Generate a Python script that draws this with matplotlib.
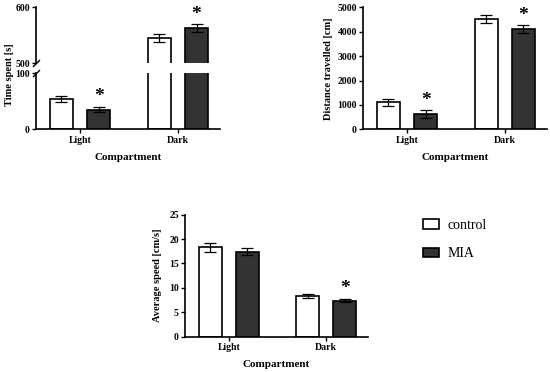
import numpy as np
import matplotlib.pyplot as plt

# Data
groups = ['Light', 'Dark']
series = ['control', 'MIA']

time_control = [54, 545]
time_control_err = [6, 7]
time_mia = [35, 563]
time_mia_err = [5, 7]
time_sig = [True, True]

dist_control = [1100, 4520]
dist_control_err = [150, 150]
dist_mia = [630, 4100]
dist_mia_err = [150, 160]
dist_sig = [True, True]

speed_control = [18.3, 8.3]
speed_control_err = [1.0, 0.4]
speed_mia = [17.4, 7.4]
speed_mia_err = [0.7, 0.35]
speed_sig = [False, True]

########### Styling ##################

plt.rcParams['font.family'] = ['Liberation Serif', 'DejaVu Serif']
plt.rcParams['font.weight'] = 'bold'

W = 0.24       # bar width
OFF = 0.19     # bar offset from group centre
DARK = '#333333'
x = np.arange(len(groups))


def style_axis(ax):
    for s in ['top', 'right']:
        ax.spines[s].set_visible(False)
    for s in ['left', 'bottom']:
        ax.spines[s].set_linewidth(1.2)
    ax.tick_params(direction='out', length=3, width=1.0, labelsize=7, pad=1.5)
    for lab in ax.get_yticklabels() + ax.get_xticklabels():
        lab.set_fontweight('bold')
    ax.set_xlim(-0.45, 1.43)


def draw_bars(ax, ctrl, ctrl_err, mia, mia_err):
    ekw = dict(ecolor='black', elinewidth=0.9, capsize=4, capthick=0.9)
    b1 = ax.bar(x - OFF, ctrl, W, yerr=ctrl_err, color='white', edgecolor='black',
                linewidth=1.2, error_kw=ekw, label=series[0])
    b2 = ax.bar(x + OFF, mia, W, yerr=mia_err, color=DARK, edgecolor='black',
                linewidth=1.2, error_kw=ekw, label=series[1])
    return b1, b2


def stars(ax, vals, errs, sig):
    for i in range(len(vals)):
        if sig[i]:
            ax.annotate('*', xy=(x[i] + OFF, vals[i] + errs[i]), xytext=(0, 1),
                        textcoords='offset points', ha='center', va='bottom',
                        fontsize=14, fontweight='bold')


fig = plt.figure(figsize=(5.5, 3.72), dpi=100)

# Panel 1: time spent, broken y axis
ax_hi = fig.add_axes([0.0655, 0.8298, 0.3345, 0.1505])
ax_lo = fig.add_axes([0.0655, 0.6524, 0.3345, 0.1513])
for ax in (ax_hi, ax_lo):
    draw_bars(ax, time_control, time_control_err, time_mia, time_mia_err)
ax_hi.set_ylim(500, 600)
ax_lo.set_ylim(0, 100)
ax_hi.set_yticks([500, 600])
ax_lo.set_yticks([0, 100])
ax_lo.set_xticks(x)
ax_lo.set_xticklabels(groups)
ax_hi.set_xticks([])
style_axis(ax_hi)
style_axis(ax_lo)
ax_hi.spines['bottom'].set_visible(False)
ax_hi.tick_params(axis='x', length=0)
for i in range(len(groups)):
    if time_sig[i]:
        target = ax_hi if time_mia[i] > 100 else ax_lo
        target.annotate('*', xy=(x[i] + OFF, time_mia[i] + time_mia_err[i]), xytext=(0, 1),
                        textcoords='offset points', ha='center', va='bottom',
                        fontsize=14, fontweight='bold')
# break marks
mk = dict(marker=[(-1, -1), (1, 1)], markersize=5, linestyle='none', color='black',
          mec='black', mew=1.0, clip_on=False)
ax_hi.plot([0], [0], transform=ax_hi.transAxes, **mk)
ax_lo.plot([0], [1], transform=ax_lo.transAxes, **mk)
ax_lo.set_xlabel('Compartment', fontsize=8, fontweight='bold', labelpad=6)
fig.text(0.018, 1 - 75 / 372, 'Time spent [s]', rotation=90, ha='center', va='center',
         fontsize=7.5, fontweight='bold')

# Panel 2: distance travelled
ax2 = fig.add_axes([0.66, 0.6524, 0.3345, 0.328])
draw_bars(ax2, dist_control, dist_control_err, dist_mia, dist_mia_err)
stars(ax2, dist_mia, dist_mia_err, dist_sig)
ax2.set_ylim(0, 5000)
ax2.set_yticks([0, 1000, 2000, 3000, 4000, 5000])
ax2.set_xticks(x)
ax2.set_xticklabels(groups)
style_axis(ax2)
ax2.set_xlabel('Compartment', fontsize=8, fontweight='bold', labelpad=6)
ax2.set_ylabel('Distance travelled [cm]', fontsize=7.5, fontweight='bold', labelpad=3)

# Panel 3: average speed
ax3 = fig.add_axes([0.3364, 0.0949, 0.333, 0.328])
b1, b2 = draw_bars(ax3, speed_control, speed_control_err, speed_mia, speed_mia_err)
stars(ax3, speed_mia, speed_mia_err, speed_sig)
ax3.set_ylim(0, 25)
ax3.set_yticks([0, 5, 10, 15, 20, 25])
ax3.set_xticks(x)
ax3.set_xticklabels(groups)
style_axis(ax3)
ax3.set_xlabel('Compartment', fontsize=8, fontweight='bold', labelpad=6)
ax3.set_ylabel('Average speed [cm/s]', fontsize=7.5, fontweight='bold', labelpad=5)

fig.legend(handles=[b1, b2], labels=series, loc='upper left',
           bbox_to_anchor=(423 / 550, 1 - 219 / 372), frameon=False,
           prop=dict(family='Liberation Serif', weight='normal', size=10),
           handlelength=1.15, handleheight=0.65, handletextpad=0.65,
           labelspacing=1.1, borderpad=0, borderaxespad=0)

plt.savefig('out.png', dpi=100)
